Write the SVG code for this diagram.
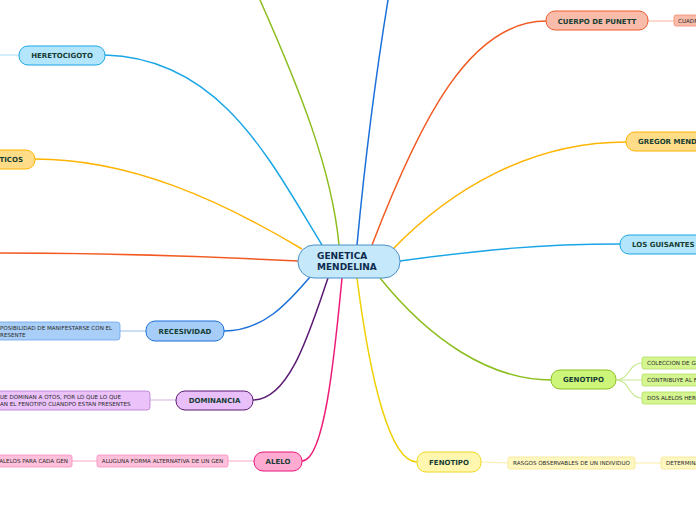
<svg xmlns="http://www.w3.org/2000/svg" width="696" height="520" viewBox="0 0 696 520">
<style>
.n{font-family:"DejaVu Sans",Verdana,sans-serif;font-weight:bold;font-size:7px;fill:#173d33}
.c{font-family:"DejaVu Sans",Verdana,sans-serif;font-size:5.6px;fill:#2a2a2a}
.ct{font-family:"DejaVu Sans",Verdana,sans-serif;font-weight:bold;font-size:9px;fill:#0e2b4f}
.l{fill:none;stroke-width:1.5}
.s{fill:none;stroke-width:1.2}
</style>
<rect width="696" height="520" fill="#ffffff"/>
<g id="connectors">
<path class="l" stroke="#8cbe1e" d="M339,245 C332,170 300,90 260,0"/>
<path class="l" stroke="#1a6fd8" d="M357,245 C365,160 375,80 388,0"/>
<path class="l" stroke="#1aa6e6" d="M322,245 C270,160 220,58 105,55"/>
<path class="l" stroke="#ffb400" d="M302,249 C220,200 130,159 35,159"/>
<path class="l" stroke="#f25a22" d="M298,261 C200,256 100,253 0,253"/>
<path class="l" stroke="#1a6fd8" d="M310,277 C290,300 265,331 224,331"/>
<path class="l" stroke="#5b1a73" d="M328,278 C310,330 290,400 253,400"/>
<path class="l" stroke="#ee1a78" d="M342,278 C335,350 325,461 302,461"/>
<path class="l" stroke="#f0d000" d="M357,278 C370,380 390,462 417,462"/>
<path class="l" stroke="#8cbe1e" d="M380,278 C430,340 490,380 551,380"/>
<path class="l" stroke="#1aa6e6" d="M400,261 C480,250 540,244 620,244"/>
<path class="l" stroke="#ffb400" d="M393,249 C450,190 530,142 626,142"/>
<path class="l" stroke="#f25a22" d="M372,245 C420,120 470,21 546,21"/>
<path class="s" stroke="#b8e4f8" d="M0,55 L19,55"/>
<path class="s" stroke="#a8c8f0" d="M120,331 L146,331"/>
<path class="s" stroke="#dcc0e8" d="M150,400 L176,400"/>
<path class="s" stroke="#f8a8c8" d="M72,461 L97,461 M228,461 L254,461"/>
<path class="s" stroke="#fbeea8" d="M481,462 L508,463 M635,463 L661,463"/>
<path class="s" stroke="#c8e890" d="M616,380 C630,380 628,363 642,363 M616,380 L642,380 M616,380 C630,380 628,398 642,398"/>
<path class="s" stroke="#f8c0b0" d="M648,21 L674,21"/>
</g>
<g id="center">
<rect x="298" y="245" width="102" height="33" rx="16" fill="#c5e9fa" stroke="#4a90c8" stroke-width="1"/>
<text class="ct" x="317" y="259">GENETICA</text>
<text class="ct" x="317" y="270">MENDELINA</text>
</g>
<g id="heretocigoto">
<rect x="19" y="46" width="86" height="19" rx="9" fill="#b3e5fc" stroke="#1aa6e6"/>
<text class="n" x="62" y="58" text-anchor="middle">HERETOCIGOTO</text>
</g>
<g id="ticos">
<rect x="-60" y="150" width="95" height="19" rx="9" fill="#ffdd88" stroke="#ffb300"/>
<text class="n" x="23" y="162" text-anchor="end">TICOS</text>
</g>
<g id="recesividad">
<rect x="146" y="321" width="78" height="20" rx="9" fill="#a5cdf8" stroke="#1a6fd8"/>
<text class="n" x="185" y="334" text-anchor="middle">RECESIVIDAD</text>
</g>
<g id="recesividad-child">
<rect x="-20" y="322" width="140" height="18" rx="3" fill="#a9cff8" stroke="#6aa4ea" stroke-width="0.8"/>
<text class="c" x="0" y="329.5">POSIBILIDAD DE MANIFESTARSE CON EL</text>
<text class="c" x="0" y="336.5">RESENTE</text>
</g>
<g id="dominancia">
<rect x="176" y="391" width="77" height="19" rx="9" fill="#e8bff8" stroke="#5b1a73"/>
<text class="n" x="214.5" y="403" text-anchor="middle">DOMINANCIA</text>
</g>
<g id="dominancia-child">
<rect x="-20" y="391" width="170" height="19" rx="3" fill="#ebc2fa" stroke="#b47ad4" stroke-width="0.8"/>
<text class="c" x="0" y="399">UE DOMINAN A OTOS, POR LO QUE LO QUE</text>
<text class="c" x="0" y="406">AN EL FENOTIPO CUANDPO ESTAN PRESENTES</text>
</g>
<g id="alelo">
<rect x="254" y="452" width="48" height="19" rx="9" fill="#ffaad0" stroke="#e8157a"/>
<text class="n" x="278" y="464" text-anchor="middle">ALELO</text>
</g>
<g id="alelo-child1">
<rect x="97" y="455" width="131" height="12" rx="2" fill="#ffc0dc" stroke="#f78cbc" stroke-width="0.8"/>
<text class="c" x="162.5" y="463" text-anchor="middle">ALUGUNA FORMA ALTERNATIVA DE UN GEN</text>
</g>
<g id="alelo-child2">
<rect x="-20" y="455" width="92" height="12" rx="2" fill="#ffc0dc" stroke="#f78cbc" stroke-width="0.8"/>
<text class="c" x="68" y="463" text-anchor="end">ALELOS PARA CADA GEN</text>
</g>
<g id="fenotipo">
<rect x="417" y="452" width="64" height="20" rx="9" fill="#fff6b0" stroke="#f0d820"/>
<text class="n" x="449" y="465" text-anchor="middle">FENOTIPO</text>
</g>
<g id="fenotipo-child1">
<rect x="508" y="457" width="127" height="12" rx="2" fill="#fff7c0" stroke="#f5e690" stroke-width="0.8"/>
<text class="c" x="571.5" y="465" text-anchor="middle">RASGOS OBSERVABLES DE UN INDIVIDUO</text>
</g>
<g id="fenotipo-child2">
<rect x="661" y="457" width="60" height="12" rx="2" fill="#fff7c0" stroke="#f5e690" stroke-width="0.8"/>
<text class="c" x="666" y="465">DETERMINA</text>
</g>
<g id="genotipo">
<rect x="551" y="370" width="65" height="19" rx="9" fill="#ccf57a" stroke="#8cc020"/>
<text class="n" x="583.5" y="382" text-anchor="middle">GENOTIPO</text>
</g>
<g id="genotipo-child1">
<rect x="642" y="357" width="80" height="12" rx="2" fill="#d4f590" stroke="#b0e060" stroke-width="0.8"/>
<text class="c" x="647" y="365">COLECCION DE GENES</text>
</g>
<g id="genotipo-child2">
<rect x="642" y="374" width="80" height="12" rx="2" fill="#d4f590" stroke="#b0e060" stroke-width="0.8"/>
<text class="c" x="647" y="382">CONTRIBUYE AL FENOTIPO</text>
</g>
<g id="genotipo-child3">
<rect x="642" y="392" width="80" height="12" rx="2" fill="#d4f590" stroke="#b0e060" stroke-width="0.8"/>
<text class="c" x="647" y="400">DOS ALELOS HEREDADOS</text>
</g>
<g id="guisantes">
<rect x="620" y="235" width="100" height="19" rx="9" fill="#b3e5fc" stroke="#1aa6e6"/>
<text class="n" x="632" y="247">LOS GUISANTES</text>
</g>
<g id="gregor">
<rect x="626" y="132" width="100" height="19" rx="9" fill="#ffdd88" stroke="#ffb300"/>
<text class="n" x="638" y="144">GREGOR MENDEL</text>
</g>
<g id="punett">
<rect x="546" y="11" width="102" height="19" rx="9" fill="#f9bcaa" stroke="#ef5a2a"/>
<text class="n" x="597" y="23.5" text-anchor="middle">CUERPO DE PUNETT</text>
</g>
<g id="punett-child">
<rect x="674" y="15" width="60" height="11" rx="2" fill="#f9bcaa" stroke="#f08a70" stroke-width="0.8"/>
<text class="c" x="678" y="22.5">CUADRO DE PUNETT</text>
</g>
</svg>
